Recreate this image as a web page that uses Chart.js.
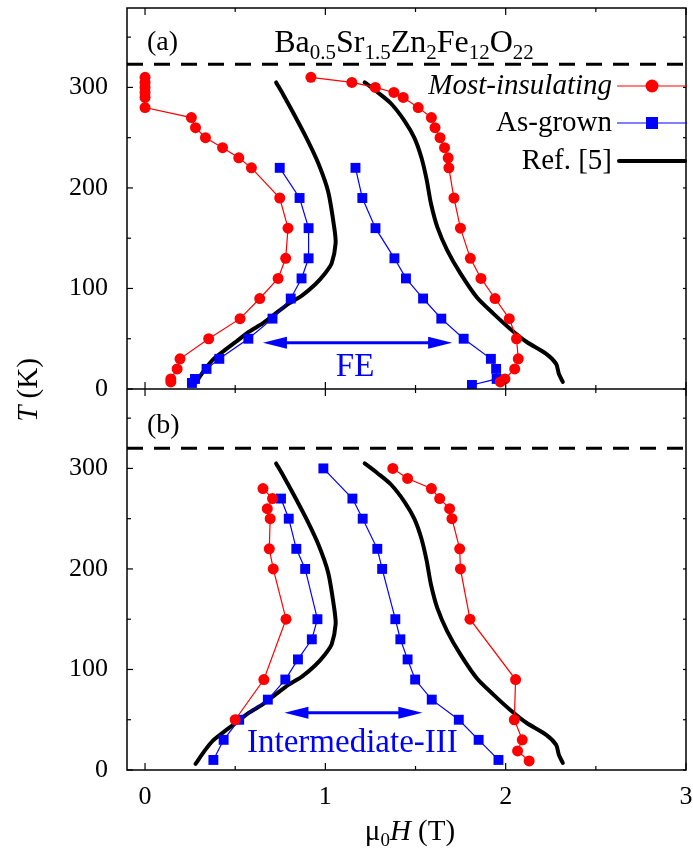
<!DOCTYPE html>
<html>
<head>
<meta charset="utf-8">
<script src="https://cdn.jsdelivr.net/npm/chart.js@4.4.1/dist/chart.umd.min.js"></script>
<style>
html, body { margin: 0; padding: 0; background: #fff; }
</style>
</head>
<body>
<canvas id="c" width="693" height="853"></canvas>
<script>
// panel (a) – most-insulating sample (H in T, temperature in K)
const miA_leftH = [0, 0, 0, 0, 0, 0, 0.257, 0.28, 0.335, 0.43, 0.52, 0.59, 0.747, 0.793, 0.78, 0.738, 0.636, 0.527, 0.353, 0.194, 0.178, 0.143, 0.143];
const miA_leftT = [310, 305, 300, 295, 290, 280, 270, 260, 250, 240, 230, 220, 190, 160, 130, 110, 90, 70, 50, 30, 20, 10, 7];
const miA_rightH = [0.92, 1.147, 1.277, 1.38, 1.432, 1.515, 1.588, 1.608, 1.636, 1.661, 1.681, 1.685, 1.713, 1.749, 1.804, 1.863, 1.941, 2.02, 2.06, 2.07, 2.05, 1.996, 1.97];
const miA_rightT = [310, 305, 300, 295, 290, 280, 270, 260, 250, 240, 230, 220, 190, 160, 130, 110, 90, 70, 50, 30, 20, 10, 7];

// panel (a) – as-grown sample
const agA_leftH = [0.747, 0.857, 0.907, 0.907, 0.868, 0.808, 0.707, 0.573, 0.412, 0.341, 0.277, 0.26];
const agA_leftT = [220, 190, 160, 130, 110, 90, 70, 50, 30, 20, 10, 6];
const agA_rightH = [1.167, 1.205, 1.278, 1.383, 1.447, 1.542, 1.643, 1.767, 1.918, 1.947, 1.95, 1.813];
const agA_rightT = [220, 190, 160, 130, 110, 90, 70, 50, 30, 20, 10, 4];

// panel (b) – most-insulating sample
const miB_leftH = [0.654, 0.707, 0.678, 0.694, 0.689, 0.711, 0.782, 0.659, 0.5];
const miB_leftT = [280, 270, 260, 250, 220, 200, 150, 90, 50];
const miB_rightH = [1.374, 1.456, 1.588, 1.634, 1.689, 1.702, 1.745, 1.749, 1.802, 2.055, 2.048, 2.092, 2.066, 2.13];
const miB_rightT = [300, 290, 280, 270, 260, 250, 220, 200, 150, 90, 50, 30, 19, 9];

// panel (b) – as-grown sample
const agB_leftH = [0.754, 0.797, 0.839, 0.888, 0.956, 0.925, 0.848, 0.778, 0.681, 0.522, 0.436, 0.379];
const agB_leftT = [270, 250, 220, 200, 150, 130, 110, 90, 70, 50, 30, 10];
const agB_rightH = [0.989, 1.15, 1.207, 1.288, 1.315, 1.388, 1.416, 1.456, 1.498, 1.59, 1.74, 1.85, 1.96];
const agB_rightT = [300, 270, 250, 220, 200, 150, 130, 110, 90, 70, 50, 30, 10];

// Ref. [5] phase boundary (same curve in both panels)
const ref_leftH = [0.727, 0.769, 0.824, 0.897, 0.962, 1.016, 1.049, 1.057, 1.035, 0.998, 0.943, 0.87, 0.797, 0.723, 0.65, 0.577, 0.504, 0.43, 0.375, 0.33, 0.28];
const ref_leftT = [305, 292, 274, 249, 224, 196, 161, 145, 125, 115, 104, 93, 85, 75, 65, 57, 47, 37, 29, 19, 6];
const ref_rightH = [1.218, 1.291, 1.364, 1.438, 1.493, 1.533, 1.562, 1.585, 1.621, 1.676, 1.749, 1.841, 1.932, 2.024, 2.115, 2.225, 2.28, 2.295, 2.317];
const ref_rightT = [305, 295, 284, 267, 250, 230, 208, 185, 161, 138, 115, 91, 75, 60, 47, 35, 25, 15, 7];

// dashed transition temperature in each panel
const dashT_a = 323;
const dashT_b = 320;

// axis ticks
const xLabelTicks = [0, 1, 2, 3];
const xMinorTicks = [0, 0.5, 1, 1.5, 2, 2.5, 3];
const yTickVals = [0, 50, 100, 150, 200, 250, 300, 350];

// arrows: [H start, H end, T]
const feArrow = [0.654, 1.703, 46];
const interArrow = [0.773, 1.538, 57];

const SERIF = '"Liberation Serif", "Times New Roman", serif';
const RED = '#ff0000';
const BLUE = '#0000ff';

function pts(h, t) {
  return h.map((v, i) => ({ x: v, y: t[i] }));
}

function series(h, t, axis, kind) {
  const base = { data: pts(h, t), yAxisID: axis, showLine: true };
  if (kind === 'mi') {
    return Object.assign(base, { borderColor: RED, backgroundColor: RED, borderWidth: 1.2,
      pointStyle: 'circle', pointRadius: 5.5, pointBorderWidth: 0 });
  }
  if (kind === 'ag') {
    return Object.assign(base, { borderColor: BLUE, backgroundColor: BLUE, borderWidth: 1.2,
      pointStyle: 'rect', pointRadius: 7, pointBorderWidth: 0 });
  }
  return Object.assign(base, { borderColor: '#000', borderWidth: 4, pointRadius: 0,
    tension: 0.25, borderCapStyle: 'round', borderJoinStyle: 'round' });
}

function dashLine(t, axis) {
  return { data: [{ x: -0.1, y: t }, { x: 3.0, y: t }], yAxisID: axis, showLine: true,
    borderColor: '#000', borderWidth: 3, borderDash: [16, 11], pointRadius: 0 };
}

function line(ctx, x1, y1, x2, y2) {
  ctx.beginPath();
  ctx.moveTo(x1, y1);
  ctx.lineTo(x2, y2);
  ctx.stroke();
}

function richText(ctx, parts, x, y, align) {
  let w = 0;
  parts.forEach(p => { ctx.font = p[1]; w += ctx.measureText(p[0]).width; });
  let cx = align === 'center' ? x - w / 2 : (align === 'right' ? x - w : x);
  ctx.textAlign = 'left';
  parts.forEach(p => {
    ctx.font = p[1];
    ctx.fillText(p[0], cx, y + (p[2] || 0));
    cx += ctx.measureText(p[0]).width;
  });
}

function arrow(ctx, x1, x2, y) {
  const hl = 24, hw = 6;
  ctx.strokeStyle = BLUE;
  ctx.fillStyle = BLUE;
  ctx.lineWidth = 3;
  line(ctx, x1 + hl - 2, y, x2 - hl + 2, y);
  ctx.beginPath();
  ctx.moveTo(x1, y); ctx.lineTo(x1 + hl, y - hw); ctx.lineTo(x1 + hl, y + hw);
  ctx.closePath(); ctx.fill();
  ctx.beginPath();
  ctx.moveTo(x2, y); ctx.lineTo(x2 - hl, y - hw); ctx.lineTo(x2 - hl, y + hw);
  ctx.closePath(); ctx.fill();
}

const decor = {
  id: 'decor',
  afterDatasetsDraw(chart) {
    const { ctx, chartArea: a, scales: { x, ya, yb } } = chart;
    ctx.save();
    ctx.strokeStyle = '#000';
    ctx.lineWidth = 1.5;
    ctx.strokeRect(a.left, a.top, a.right - a.left, a.bottom - a.top);
    const mid = ya.bottom;
    line(ctx, a.left, mid, a.right, mid);

    ctx.lineWidth = 1.2;
    xMinorTicks.forEach(v => {
      const px = x.getPixelForValue(v);
      const len = Number.isInteger(v) ? 7 : 4;
      line(ctx, px, a.top, px, a.top + len);
      line(ctx, px, mid - len, px, mid + len);
      line(ctx, px, a.bottom, px, a.bottom - len);
    });
    [ya, yb].forEach(s => {
      yTickVals.forEach(v => {
        const py = s.getPixelForValue(v);
        if (py < s.top - 0.5 || py > s.bottom + 0.5) return;
        line(ctx, a.left, py, a.left + (v % 100 ? 4 : 6), py);
        line(ctx, a.right, py, a.right - 3, py);
      });
    });

    // arrows and phase labels
    arrow(ctx, x.getPixelForValue(feArrow[0]), x.getPixelForValue(feArrow[1]), ya.getPixelForValue(feArrow[2]));
    arrow(ctx, x.getPixelForValue(interArrow[0]), x.getPixelForValue(interArrow[1]), yb.getPixelForValue(interArrow[2]));
    ctx.fillStyle = BLUE;
    ctx.textAlign = 'center';
    ctx.textBaseline = 'middle';
    ctx.font = '33px ' + SERIF;
    ctx.fillText('FE', x.getPixelForValue(1.165), ya.getPixelForValue(22));
    ctx.fillText('Intermediate-III', x.getPixelForValue(1.15), yb.getPixelForValue(27));

    // legend
    const lx = 612, l1 = 617, l2 = 687, lc = 652;
    const rows = [86, 123, 161];
    ctx.fillStyle = '#000';
    ctx.textAlign = 'right';
    ctx.textBaseline = 'middle';
    ctx.font = 'italic 29px ' + SERIF;
    ctx.fillText('Most-insulating', lx, rows[0]);
    ctx.font = '29px ' + SERIF;
    ctx.fillText('As-grown', lx, rows[1]);
    ctx.fillText('Ref. [5]', lx, rows[2]);
    ctx.lineWidth = 1.2;
    ctx.strokeStyle = RED;
    line(ctx, l1, rows[0], l2, rows[0]);
    ctx.fillStyle = RED;
    ctx.beginPath(); ctx.arc(lc, rows[0], 6.5, 0, Math.PI * 2); ctx.fill();
    ctx.strokeStyle = BLUE;
    line(ctx, l1, rows[1], l2, rows[1]);
    ctx.fillStyle = BLUE;
    ctx.fillRect(lc - 6, rows[1] - 6, 12, 12);
    ctx.strokeStyle = '#000';
    ctx.lineWidth = 4;
    ctx.lineCap = 'round';
    line(ctx, l1 + 2, rows[2], l2 - 2, rows[2]);
    ctx.restore();
  },
  afterDraw(chart) {
    const { ctx } = chart;
    ctx.save();
    ctx.fillStyle = '#000';
    ctx.textBaseline = 'alphabetic';
    const big = '32px ' + SERIF, sub = '21px ' + SERIF;
    richText(ctx, [['Ba', big], ['0.5', sub, 7], ['Sr', big], ['1.5', sub, 7], ['Zn', big],
      ['2', sub, 7], ['Fe', big], ['12', sub, 7], ['O', big], ['22', sub, 7]], 404, 52, 'center');
    ctx.font = '28px ' + SERIF;
    ctx.textAlign = 'left';
    ctx.fillText('(a)', 147, 50);
    ctx.fillText('(b)', 147, 433);

    richText(ctx, [['\u03bc', '29px ' + SERIF], ['0', '19px ' + SERIF, 6], ['H', 'italic 29px ' + SERIF],
      [' (T)', '29px ' + SERIF]], 410, 840, 'center');

    ctx.translate(37, 390);
    ctx.rotate(-Math.PI / 2);
    richText(ctx, [['T', 'italic 29px ' + SERIF], [' (K)', '29px ' + SERIF]], 0, 0, 'center');
    ctx.restore();
  }
};

const tickFont = { family: SERIF, size: 26 };

function yAxis(weight) {
  return {
    type: 'linear', position: 'left', stack: 'panels', stackWeight: 1, weight: weight,
    min: 0, max: 379,
    afterFit(s) { s.width = 127; s.paddingTop = 0; s.paddingBottom = 0; },
    ticks: { stepSize: 100, includeBounds: false, font: tickFont, color: '#000', padding: 19 },
    grid: { display: false, drawTicks: false },
    border: { display: false }
  };
}

new Chart(document.getElementById('c'), {
  type: 'scatter',
  data: {
    datasets: [
      series(miA_leftH, miA_leftT, 'ya', 'mi'),
      series(miA_rightH, miA_rightT, 'ya', 'mi'),
      series(miB_leftH, miB_leftT, 'yb', 'mi'),
      series(miB_rightH, miB_rightT, 'yb', 'mi'),
      series(agA_leftH, agA_leftT, 'ya', 'ag'),
      series(agA_rightH, agA_rightT, 'ya', 'ag'),
      series(agB_leftH, agB_leftT, 'yb', 'ag'),
      series(agB_rightH, agB_rightT, 'yb', 'ag'),
      series(ref_leftH, ref_leftT, 'ya', 'ref'),
      series(ref_rightH, ref_rightT, 'ya', 'ref'),
      series(ref_leftH, ref_leftT, 'yb', 'ref'),
      series(ref_rightH, ref_rightT, 'yb', 'ref'),
      dashLine(dashT_a, 'ya'),
      dashLine(dashT_b, 'yb')
    ]
  },
  options: {
    responsive: false,
    animation: false,
    devicePixelRatio: 1,
    layout: { padding: { top: 8, right: 3, left: 0, bottom: 0 } },
    plugins: { legend: { display: false }, tooltip: { enabled: false } },
    scales: {
      x: {
        type: 'linear', position: 'bottom', min: -0.1, max: 3.0,
        afterFit(s) { s.paddingLeft = 0; s.paddingRight = 0; s.height = 83; },
        afterBuildTicks(s) { s.ticks = xLabelTicks.map(v => ({ value: v })); },
        ticks: { font: tickFont, color: '#000', padding: 12 },
        grid: { display: false, drawTicks: false },
        border: { display: false }
      },
      ya: yAxis(1),
      yb: yAxis(0)
    }
  },
  plugins: [decor]
});
</script>
</body>
</html>
